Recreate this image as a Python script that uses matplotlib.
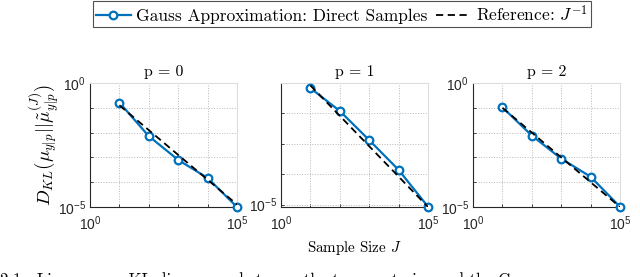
import numpy as np
import matplotlib
matplotlib.use("Agg")
import matplotlib.pyplot as plt

plt.rcParams['font.family'] = ['Liberation Sans', 'DejaVu Sans']
plt.rcParams['mathtext.fontset'] = 'cm'
plt.rcParams['axes.unicode_minus'] = False

# ===== DATA =====
sample_sizes = [1e1, 1e2, 1e3, 1e4, 1e5]
panel_titles = ["p = 0", "p = 1", "p = 2"]

kl_p0 = [1.62e-1, 7.2e-3, 7.9e-4, 1.48e-4, 1.0e-5]
kl_p1 = [6.8e-2, 1.2e-2, 1.32e-3, 1.38e-4, 8.5e-6]
kl_p2 = [1.05e-1, 7.6e-3, 8.9e-4, 1.66e-4, 1.02e-5]

ref_p0 = [1.26e-1, 1.26e-2, 1.26e-3, 1.26e-4, 1.26e-5]
ref_p1 = [8.3e-2, 8.3e-3, 8.3e-4, 8.3e-5, 8.3e-6]
ref_p2 = [1.0e-1, 1.0e-2, 1.0e-3, 1.0e-4, 1.0e-5]

ylims = [(1e-5, 1e0), (8.3e-6, 1e-1), (1e-5, 1e0)]

kl_series = [kl_p0, kl_p1, kl_p2]
ref_series = [ref_p0, ref_p1, ref_p2]

blue = '#0072BD'
dark = '#262626'
serif = 'cmr10'

fig = plt.figure(figsize=(6.4, 2.77), dpi=100)

lefts = [90, 281, 473]
W, H = 640, 277
axes = []
for i, left in enumerate(lefts):
    ax = fig.add_axes([left / W, 1 - 207 / H, 147 / W, 124 / H])
    axes.append(ax)

    l1, = ax.loglog(sample_sizes, kl_series[i], color=blue, lw=1.6,
                    marker='o', ms=5.5, mfc='white', mec=blue, mew=1.6,
                    clip_on=False, zorder=3,
                    label="Gauss Approximation: Direct Samples")
    l2, = ax.loglog(sample_sizes, ref_series[i], color='black', lw=1.3,
                    dashes=(4, 2.5), zorder=4,
                    label=r"Reference: $J^{-1}$")

    ax.set_xlim(1e0, 1e5)
    ax.set_ylim(*ylims[i])

    xt = [1e0, 1e1, 1e2, 1e3, 1e4, 1e5]
    ax.set_xticks(xt)
    ax.set_xticklabels([r'$\mathregular{10^{0}}$', '', '', '', '', r'$\mathregular{10^{5}}$'])
    yt = [1e-5, 1e-4, 1e-3, 1e-2, 1e-1, 1e0]
    yt = [v for v in yt if ylims[i][0] <= v <= ylims[i][1] * 1.0001]
    ax.set_yticks(yt)
    ylabels = []
    for v in yt:
        if np.isclose(v, 1e0):
            ylabels.append(r'$\mathregular{10^{0}}$')
        elif np.isclose(v, 1e-5):
            ylabels.append(r'$\mathregular{10^{-5}}$')
        else:
            ylabels.append('')
    ax.set_yticklabels(ylabels)
    ax.minorticks_off()

    ax.tick_params(direction='in', length=2.5, width=0.6, colors=dark,
                   labelsize=10)
    ax.tick_params(axis='x', pad=5)
    ax.tick_params(axis='y', pad=3)
    ax.grid(True, which='major', linestyle=':', color='#b8b8b8', lw=0.7)
    for s in ['left', 'bottom']:
        ax.spines[s].set_color(dark)
        ax.spines[s].set_linewidth(0.8)
    for s in ['top', 'right']:
        ax.spines[s].set_color('#dcdcdc')
        ax.spines[s].set_linewidth(0.8)

    ax.set_title(panel_titles[i], fontfamily=serif, fontsize=11.4, pad=5)

axes[1].set_xlabel(r"Sample Size $J$", fontfamily=serif, fontsize=10.8, labelpad=5)

fig.text(44 / W, 1 - 145 / H,
         r"$D_{KL}(\mu_{y|p}||\tilde{\mu}_{y|p}^{(J)})$",
         rotation=90, ha='center', va='center', fontsize=13.5)

leg = fig.legend(handles=[l1, l2], loc='center',
                 bbox_to_anchor=(342 / W, 1 - 14 / H), ncol=2,
                 prop={'family': serif, 'size': 12.5},
                 frameon=True, fancybox=False, edgecolor=dark,
                 handlelength=2.05, handletextpad=0.3, columnspacing=0.45,
                 borderpad=0.15, borderaxespad=0)
leg.get_frame().set_linewidth(0.8)

# caption line, mostly cut off by the bottom of the picture
fig.text(0, 1 - 272 / H,
         "2.1:  Linear case: KL divergence between the true posterior and the Gauss",
         fontfamily=serif, fontsize=12, va='top', ha='left')

fig.savefig("out.png", dpi=100)
